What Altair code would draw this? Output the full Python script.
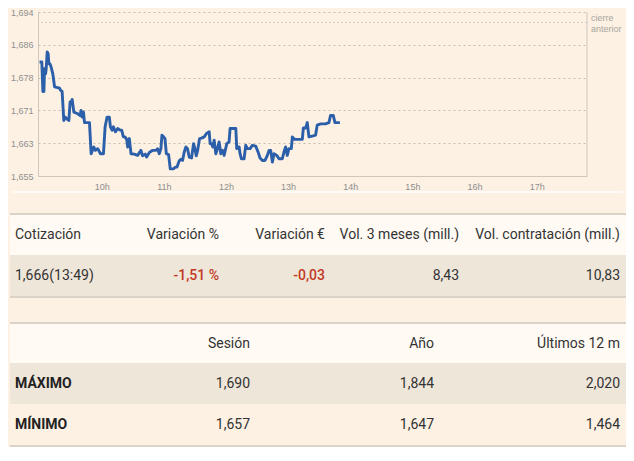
import altair as alt
import pandas as pd

# ---------------- data ----------------
# minutes after 09:00 and price (EUR)
minutes = [
    0, 2.2, 3.2, 4.2, 4.8, 5.8, 6.4, 7.4, 8.3, 9.0,
    10.0, 11.2, 12.8, 14.5, 19.3, 20.2, 21.8, 23.4, 24.7, 26.3,
    28.3, 29.5, 30.5, 31.5, 33.1, 36.9, 39.2, 40.1, 41.1, 42.4,
    43.4, 48.2, 49.8, 52.3, 53.9, 56.2, 58.8, 61.7, 63.3, 65.2,
    67.4, 68.4, 70.0, 71.3, 73.2, 75.5, 77.7, 79.3, 80.9, 82.5,
    84.1, 85.1, 86.7, 88.3, 91.5, 94.7, 97.9, 99.5, 102.1, 103.4,
    106.0, 109.2, 112.4, 114.0, 115.6, 117.2, 118.2, 119.8, 121.1, 122.4,
    124.6, 126.2, 129.4, 131.0, 132.6, 134.9, 136.5, 138.1, 139.7, 141.3,
    142.9, 144.5, 146.8, 148.7, 150.0, 151.3, 152.5, 154.5, 156.4, 159.0,
    161.2, 163.8, 164.7, 166.0, 167.3, 168.6, 170.2, 171.8, 173.4, 175.0,
    176.6, 178.2, 180.8, 183.0, 184.0, 187.9, 189.5, 190.4, 191.7, 192.7,
    193.6, 194.9, 197.5, 199.1, 200.7, 203.3, 205.5, 208.7, 211.0, 212.9,
    215.2, 217.7, 220.0, 221.6, 223.2, 224.8, 226.4, 229.0, 231.2, 234.4,
    236.0, 237.6, 239.2, 240.8, 243.1, 244.1, 246.3, 249.5, 253.7, 254.7,
    256.9, 258.5, 260.1, 263.3, 266.5, 268.1, 271.4, 276.1, 279.4, 281.0,
    283.6, 285.2, 290.0,
]
prices = [
    1.6821, 1.6821, 1.6751, 1.6751, 1.6805, 1.6793, 1.6805, 1.6845, 1.6841, 1.6817,
    1.6817, 1.6809, 1.6793, 1.6762, 1.6759, 1.6754, 1.6751, 1.6682, 1.6690, 1.6686,
    1.6682, 1.6726, 1.6722, 1.6732, 1.6702, 1.6698, 1.6694, 1.6706, 1.6690, 1.6702,
    1.6677, 1.6677, 1.6603, 1.6619, 1.6611, 1.6615, 1.6603, 1.6603, 1.6667, 1.6690,
    1.6690, 1.6667, 1.6659, 1.6667, 1.6655, 1.6663, 1.6659, 1.6659, 1.6643, 1.6643,
    1.6637, 1.6619, 1.6639, 1.6603, 1.6602, 1.6599, 1.6611, 1.6598, 1.6602, 1.6595,
    1.6606, 1.6611, 1.6611, 1.6615, 1.6603, 1.6615, 1.6647, 1.6643, 1.6639, 1.6603,
    1.6601, 1.6567, 1.6567, 1.6571, 1.6571, 1.6586, 1.6590, 1.6587, 1.6607, 1.6619,
    1.6615, 1.6595, 1.6593, 1.6627, 1.6615, 1.6598, 1.6609, 1.6639, 1.6640, 1.6643,
    1.6651, 1.6655, 1.6627, 1.6627, 1.6619, 1.6635, 1.6603, 1.6615, 1.6631, 1.6603,
    1.6611, 1.6599, 1.6627, 1.6631, 1.6663, 1.6663, 1.6663, 1.6615, 1.6619, 1.6619,
    1.6603, 1.6591, 1.6591, 1.6623, 1.6615, 1.6615, 1.6623, 1.6621, 1.6607, 1.6593,
    1.6587, 1.6587, 1.6599, 1.6611, 1.6611, 1.6583, 1.6603, 1.6599, 1.6591, 1.6591,
    1.6607, 1.6619, 1.6599, 1.6615, 1.6615, 1.6643, 1.6637, 1.6637, 1.6637, 1.6664,
    1.6664, 1.6677, 1.6643, 1.6645, 1.6647, 1.6671, 1.6674, 1.6674, 1.6677, 1.6694,
    1.6694, 1.6677, 1.6677,
]
hour_ticks = [10, 11, 12, 13, 14, 15, 16, 17]
price_ticks = [1.655, 1.6628, 1.6706, 1.6784, 1.6862, 1.694]
price_domain = [1.655, 1.694]
time_domain = [8.975, 17.81]
prev_close = 1.6915
prev_close_lines = ["cierre", "anterior"]

t1_headers = ["Cotización", "Variación %", "Variación €", "Vol. 3 meses (mill.)", "Vol. contratación (mill.)"]
t1_values = ["1,666(13:49)", "-1,51 %", "-0,03", "8,43", "10,83"]
t1_negative = [False, True, True, False, False]
t2_headers = ["Sesión", "Año", "Últimos 12 m"]
t2_row_names = ["MÁXIMO", "MÍNIMO"]
t2_max = ["1,690", "1,844", "2,020"]
t2_min = ["1,657", "1,647", "1,464"]

# ---------------- style / layout ----------------
BG = "#fdf1e3"
HEAD_BG = "#fffaf3"
ROW_BG = "#efe6da"
BORDER = "#dcd3c8"
WHITE_LINE = "#fffaf5"
LINE_BLUE = "#2c5fa9"
GRID = "#c4bcb1"
AXIS_LBL = "#8f8f8f"
TEXT = "#333333"
RED = "#c13a25"
FONT = "Roboto"

AXIS_W = 30                              # width kept for the y-axis labels
PLOT_W, PLOT_H = 549, 164
TW, TH = 618, 256                        # table panel in page pixels (from page left edge)
T1_COLS_RIGHT = [211, 317, 451, 612]
T2_COLS_RIGHT = [242, 426, 612]
LEFT_X = 7
T1_TOP = 22
T2_TOP = 131
ROW_H = 41
BORDER_H = 2

# ---------------- line chart ----------------
line_df = pd.DataFrame({"t": [9 + m / 60 for m in minutes], "p": prices})

xenc = alt.X(
    "t:Q",
    scale=alt.Scale(domain=time_domain, nice=False, zero=False),
    axis=alt.Axis(values=hour_ticks, labelExpr="datum.value + 'h'", grid=False, ticks=False,
                  domain=True, domainColor="#cfc7bc", labelFontSize=9, labelColor=AXIS_LBL,
                  labelFont="Liberation Sans", labelPadding=6, title=None),
)
yenc = alt.Y(
    "p:Q",
    scale=alt.Scale(domain=price_domain, nice=False, zero=False),
    axis=alt.Axis(values=price_ticks, labelExpr="replace(format(datum.value, '.3f'), '.', ',')",
                  grid=True, gridDash=[2, 3], gridColor=GRID, ticks=False, domain=True,
                  domainColor="#cfc7bc", labelFontSize=9, labelColor=AXIS_LBL,
                  labelFont="Liberation Sans", labelPadding=5, minExtent=AXIS_W, maxExtent=AXIS_W,
                  title=None),
)

line = alt.Chart(line_df).mark_line(color=LINE_BLUE, strokeWidth=2.9, strokeJoin="round").encode(x=xenc, y=yenc)

prev_df = pd.DataFrame({"t": [time_domain[1]], "p": [prev_close],
                        "l1": [prev_close_lines[0]], "l2": [prev_close_lines[1]]})
prev_rule = alt.Chart(prev_df).mark_rule(color="#d3ccc2", strokeDash=[2, 2], strokeWidth=1).encode(y=yenc)
txt_style = dict(align="left", baseline="middle", dx=4, fontSize=9, color="#a9a49d", font="Liberation Sans")
prev_text1 = alt.Chart(prev_df).mark_text(dy=-5, **txt_style).encode(x=xenc, y=yenc, text="l1:N")
prev_text2 = alt.Chart(prev_df).mark_text(dy=6, **txt_style).encode(x=xenc, y=yenc, text="l2:N")
right_border = alt.Chart(prev_df).mark_rule(color="#cfc7bc", strokeWidth=1).encode(x=xenc)

line_chart = alt.layer(prev_rule, line, right_border, prev_text1, prev_text2).properties(
    width=PLOT_W, height=PLOT_H)

# ---------------- tables (pixel layout panel) ----------------
rects = []
def add_rect(x, x2, y, y2, fill):
    rects.append({"x": x, "x2": x2, "y": y, "y2": y2, "fill": fill})

add_rect(4, 615, 0, 2, WHITE_LINE)
# table 1
add_rect(2, TW, T1_TOP, T1_TOP + BORDER_H, BORDER)
add_rect(2, TW, T1_TOP + BORDER_H, T1_TOP + BORDER_H + ROW_H - 1, HEAD_BG)
add_rect(2, TW, T1_TOP + BORDER_H + ROW_H - 1, T1_TOP + BORDER_H + 2 * ROW_H - 1, ROW_BG)
add_rect(2, TW, T1_TOP + BORDER_H + 2 * ROW_H - 1, T1_TOP + 2 * BORDER_H + 2 * ROW_H - 1, BORDER)
# table 2
add_rect(2, TW, T2_TOP, T2_TOP + BORDER_H, BORDER)
add_rect(2, TW, T2_TOP + BORDER_H, T2_TOP + BORDER_H + ROW_H - 2, HEAD_BG)
add_rect(2, TW, T2_TOP + BORDER_H + ROW_H - 2, T2_TOP + BORDER_H + 2 * ROW_H - 2, ROW_BG)
add_rect(2, TW, T2_TOP + BORDER_H + 3 * ROW_H - 2, T2_TOP + 2 * BORDER_H + 3 * ROW_H - 2, BORDER)
rect_df = pd.DataFrame(rects)

t1_head_y = T1_TOP + BORDER_H + (ROW_H - 1) / 2
t1_row_y = t1_head_y + ROW_H
t2_head_y = T2_TOP + BORDER_H + (ROW_H - 2) / 2
t2_max_y = t2_head_y + ROW_H - 0.5
t2_min_y = t2_max_y + ROW_H

left_rows, bold_rows, right_rows, red_rows = [], [], [], []
left_rows.append({"x": LEFT_X, "y": t1_head_y, "text": t1_headers[0], "c": TEXT})
left_rows.append({"x": LEFT_X, "y": t1_row_y, "text": t1_values[0], "c": TEXT})
for i in range(1, 5):
    right_rows.append({"x": T1_COLS_RIGHT[i - 1], "y": t1_head_y, "text": t1_headers[i], "c": TEXT})
    cell = {"x": T1_COLS_RIGHT[i - 1], "y": t1_row_y, "text": t1_values[i],
            "c": RED if t1_negative[i] else TEXT}
    (red_rows if t1_negative[i] else right_rows).append(cell)
for j in range(3):
    right_rows.append({"x": T2_COLS_RIGHT[j], "y": t2_head_y, "text": t2_headers[j], "c": TEXT})
    right_rows.append({"x": T2_COLS_RIGHT[j], "y": t2_max_y, "text": t2_max[j], "c": TEXT})
    right_rows.append({"x": T2_COLS_RIGHT[j], "y": t2_min_y, "text": t2_min[j], "c": TEXT})
bold_rows.append({"x": LEFT_X, "y": t2_max_y, "text": t2_row_names[0], "c": "#222222"})
bold_rows.append({"x": LEFT_X, "y": t2_min_y, "text": t2_row_names[1], "c": "#222222"})

# the concat aligns panel origins, so the table panel's origin sits under the line plot's
# origin (AXIS_W px right of the page edge); the scale is shifted accordingly.
px = alt.Scale(domain=[AXIS_W, TW], nice=False, zero=False)
py = alt.Scale(domain=[0, TH], nice=False, zero=False, reverse=True)

rect_layer = alt.Chart(rect_df).mark_rect().encode(
    x=alt.X("x:Q", scale=px, axis=None), x2="x2:Q",
    y=alt.Y("y:Q", scale=py, axis=None), y2="y2:Q",
    color=alt.Color("fill:N", scale=None),
)

def text_layer(rows, align, weight):
    return alt.Chart(pd.DataFrame(rows)).mark_text(
        align=align, baseline="middle", font=FONT, fontSize=14, fontWeight=weight,
    ).encode(
        x=alt.X("x:Q", scale=px, axis=None),
        y=alt.Y("y:Q", scale=py, axis=None),
        text="text:N",
        color=alt.Color("c:N", scale=None),
    )

tables = alt.layer(
    rect_layer,
    text_layer(left_rows, "left", "normal"),
    text_layer(bold_rows, "left", "bold"),
    text_layer(right_rows, "right", "normal"),
    text_layer(red_rows, "right", 500),
).properties(width=TW - AXIS_W, height=TH)

chart = alt.vconcat(line_chart, tables, spacing=0).properties(
    padding=0, background=BG
).configure_view(stroke=None)

chart.save("out.html", embed_options={"renderer": "svg", "actions": False})
